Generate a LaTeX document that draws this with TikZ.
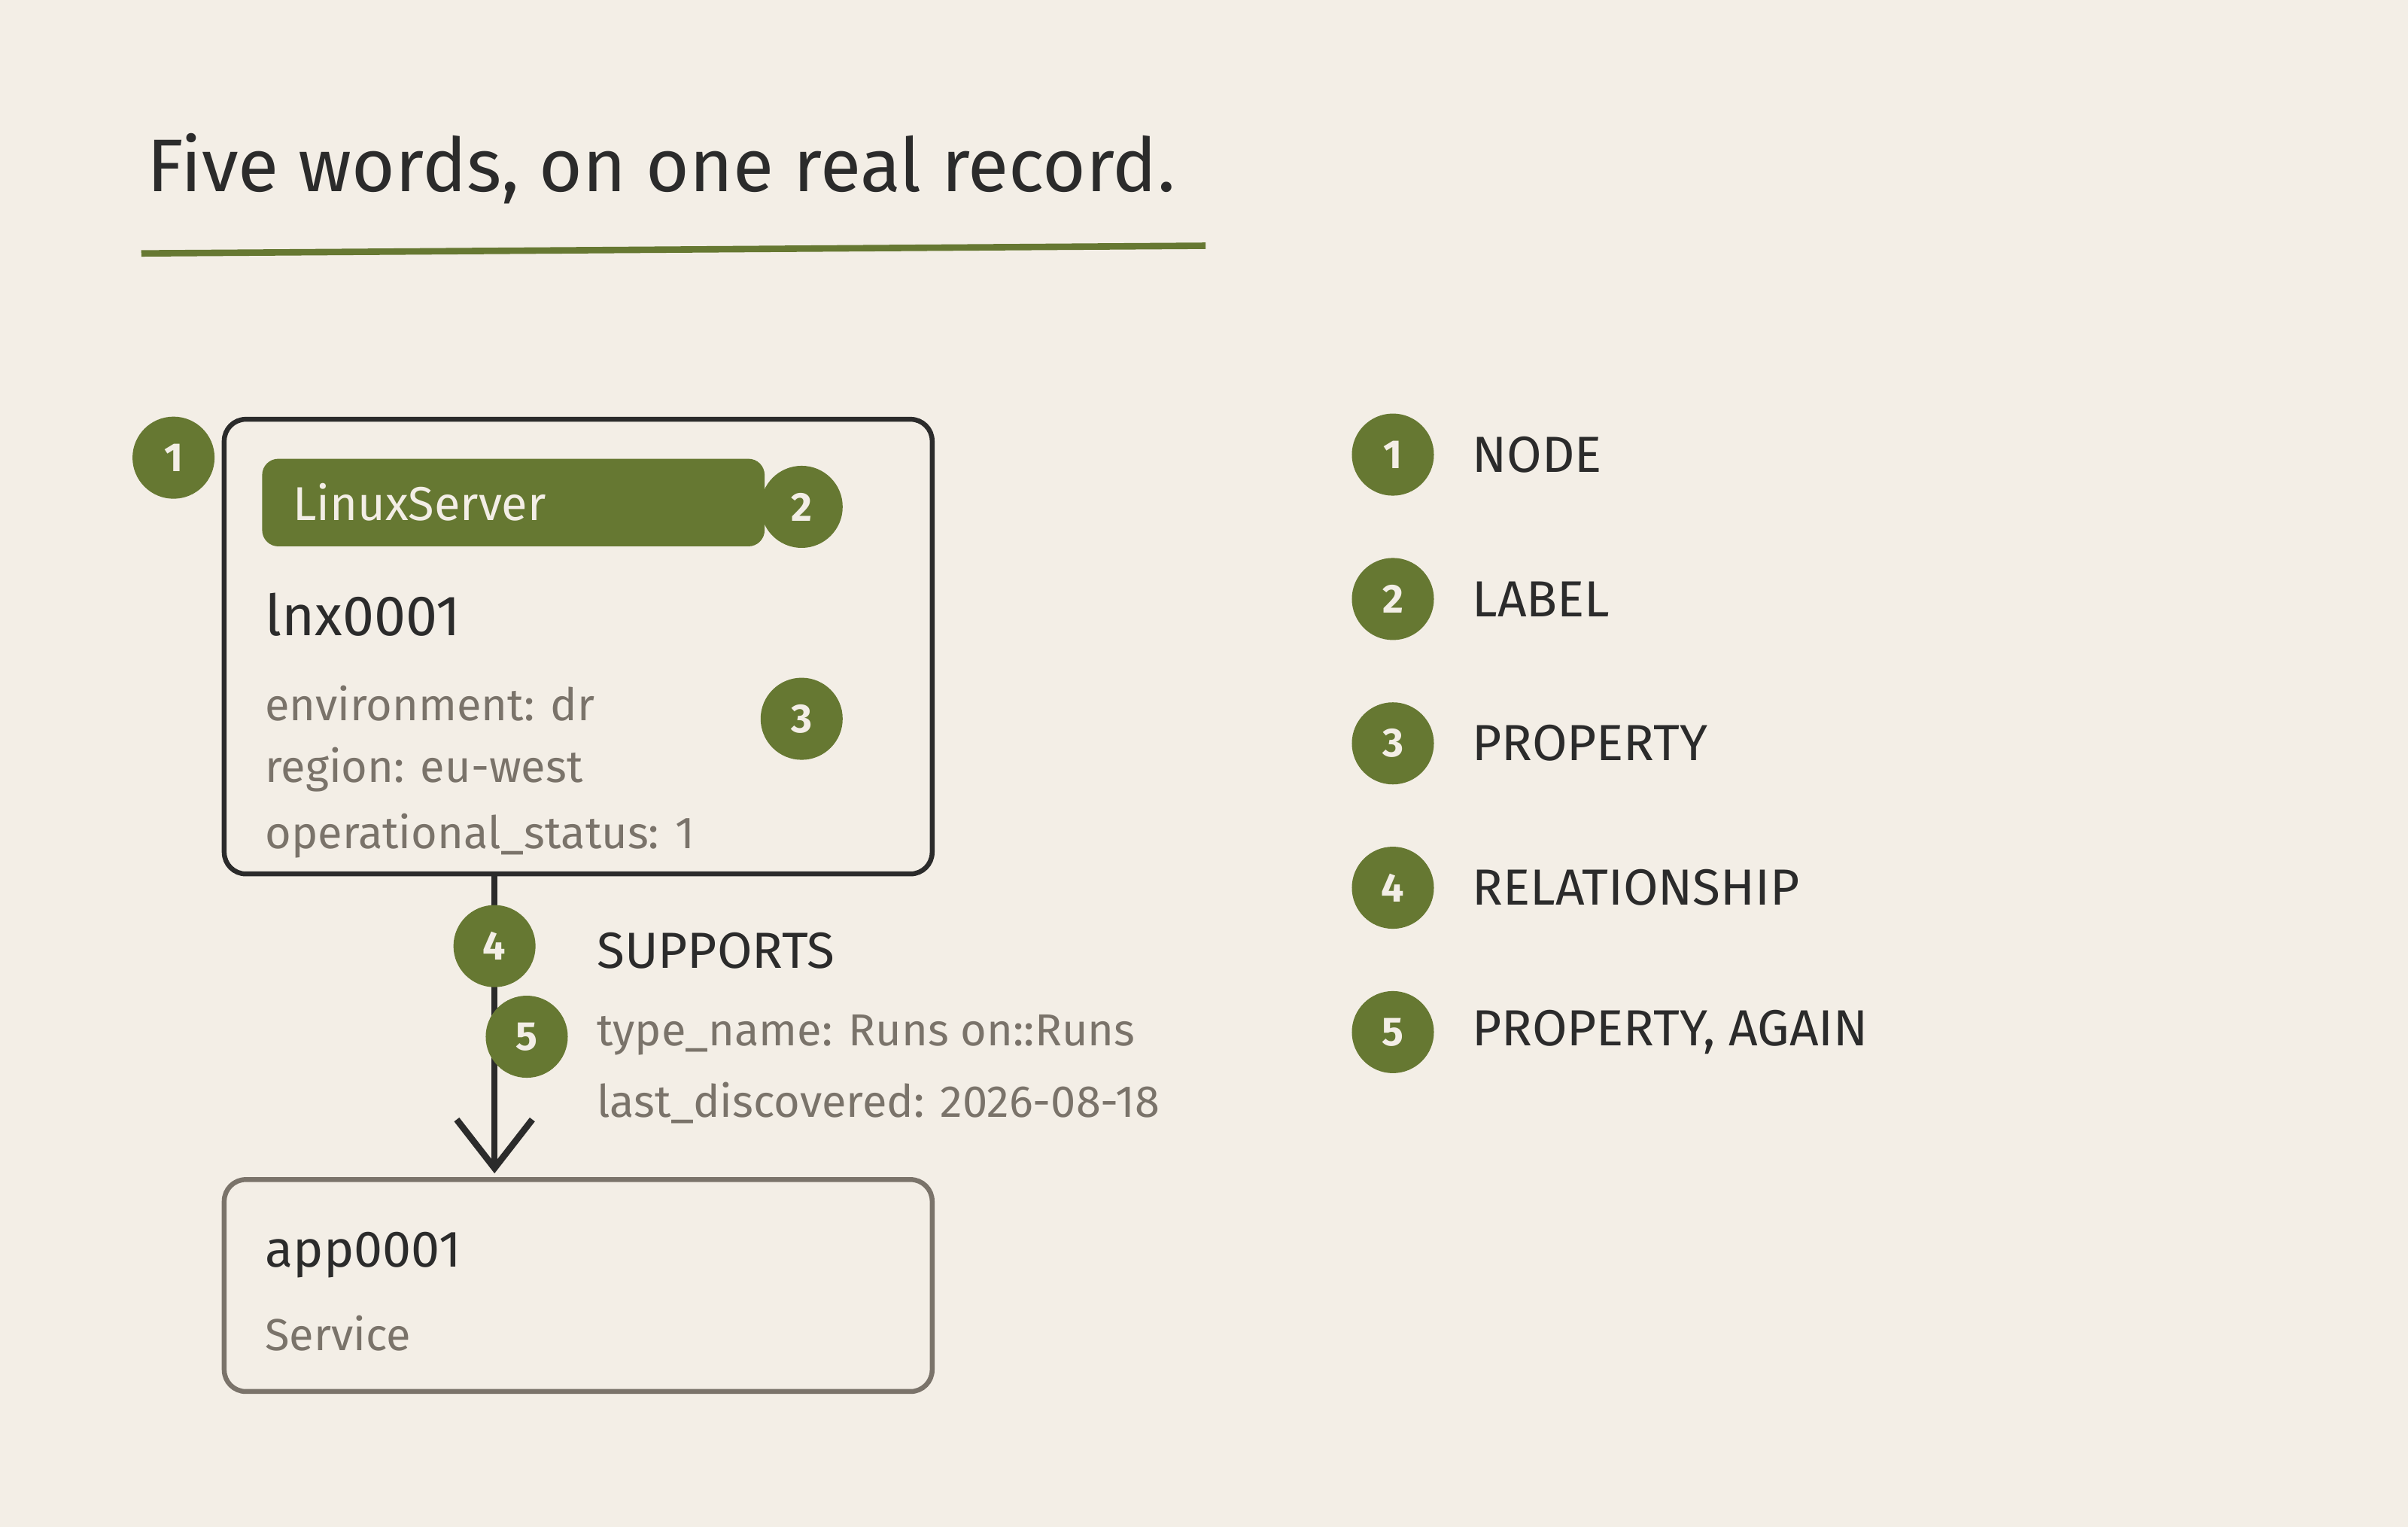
\documentclass[tikz,border=0pt]{standalone}
\usepackage{fontspec}
\setmainfont{Fira Sans}
\usetikzlibrary{arrows.meta}
\definecolor{bg}{HTML}{F3EEE6}
\definecolor{grn}{HTML}{667832}
\definecolor{ink}{HTML}{2B2B2B}
\definecolor{gry}{HTML}{7A736A}
\begin{document}
\begin{tikzpicture}[x=0.01cm,y=-0.01cm,
  badge/.style={circle,fill=grn,draw=grn,minimum size=0.52cm,inner sep=0pt,text=bg,font=\fontsize{7.5}{8}\selectfont\bfseries},
  box/.style={draw=ink,line width=0.9pt,rounded corners=4pt},
  prop/.style={anchor=west,text=gry,font=\fontsize{8.3}{9}\selectfont,inner sep=0pt},
  leg/.style={anchor=west,text=ink,font=\fontsize{9.4}{10}\selectfont,inner sep=0pt}]
\fill[bg] (0,0) rectangle (1568,994);
\useasboundingbox (0,0) rectangle (1568,994);
\node[anchor=west,inner sep=0pt,text=ink,font=\fontsize{13.8}{17}\selectfont] (title) at (95,110) {Five words, on one real record.};
\draw[grn,line width=1.2pt] (92,165) coordinate (u1) -- (785,160) coordinate (u2);
% node box
\draw[box] (146,273) rectangle (607,569);
\node[fill=grn,rounded corners=3pt,minimum width=3.27cm,minimum height=0.57cm,anchor=north west,inner sep=0pt] (lbl) at (170,298) {};
\node[anchor=west,inner sep=0pt,text=bg,font=\fontsize{8.8}{10}\selectfont] (lbltxt) at (190,327) {LinuxServer};
\node[anchor=west,inner sep=0pt,text=ink,font=\fontsize{10.5}{12}\selectfont] (name1) at (172,400) {lnx0001};
\node[prop] (p1) at (172,458) {environment: dr};
\node[prop] (p2) at (172,501) {region: eu-west};
\node[prop] (p3) at (172,544) {operational\_status: 1};
\coordinate (a1) at (322,569);
\coordinate (a2) at (322,764);
\draw[ink,line width=1.2pt,-{Straight Barb[length=9pt,width=14pt,line width=1.2pt]}] (a1) -- (a2);
\node[leg] (sup) at (388,619) {SUPPORTS};
\node[prop] (r1) at (388,674) {type\_name: Runs on::Runs};
\node[prop] (r2) at (388,718) {last\_discovered: 2026-08-18};
% second box
\draw[box,draw=gry] (146,768) rectangle (607,906);
\node[anchor=west,inner sep=0pt,text=ink,font=\fontsize{9.5}{11}\selectfont] (name2) at (172,817) {app0001};
\node[prop] (svc) at (172,868) {Service};
% badges
\node[badge] (b1) at (113,298) {1};
\node[badge] (b2) at (522,330) {2};
\node[badge] (b3) at (522,468) {3};
\node[badge] (b4) at (322,616) {4};
\node[badge] (b5) at (343,675) {5};
% legend
\node[badge] (l1) at (907,296) {1}; \node[leg] (t1) at (958,296) {NODE};
\node[badge] (l2) at (907,390) {2}; \node[leg] (t2) at (958,390) {LABEL};
\node[badge] (l3) at (907,484) {3}; \node[leg] (t3) at (958,484) {PROPERTY};
\node[badge] (l4) at (907,578) {4}; \node[leg] (t4) at (958,578) {RELATIONSHIP};
\node[badge] (l5) at (907,672) {5}; \node[leg] (t5) at (958,672) {PROPERTY, AGAIN};
\end{tikzpicture}
\end{document}
